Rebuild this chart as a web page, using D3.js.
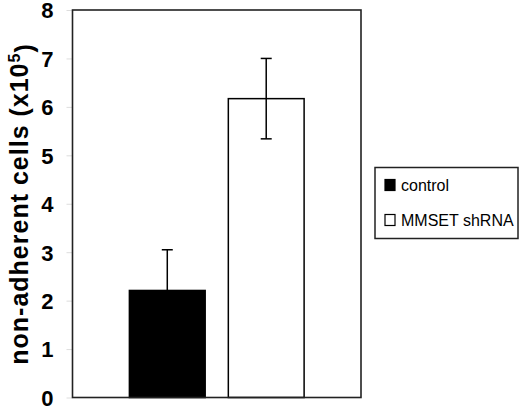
<!DOCTYPE html>
<html>
<head>
<meta charset="utf-8">
<script src="https://cdn.jsdelivr.net/npm/d3@7"></script>
<style>
  body { margin: 0; background: #fff; }
  svg { display: block; }
</style>
</head>
<body>
<svg id="chart" width="520" height="409"></svg>
<script>
// data
var groups = ["control", "MMSET shRNA"];
var means = [2.21, 6.17];
var errs = [0.84, 0.83];
var fills = ["#000000", "#ffffff"];
var yTicks = [0, 1, 2, 3, 4, 5, 6, 7, 8];

var svg = d3.select("#chart");
var box = { left: 72.5, right: 361, top: 10, bottom: 397.5 };
var font = "Arial, 'Liberation Sans', sans-serif";

var y = d3.scaleLinear().domain([0, 8]).range([box.bottom, box.top]);
var x = d3.scaleBand().domain(groups)
  .range([box.left, box.right])
  .paddingInner(0.234)
  .paddingOuter(0.575);

// y axis ticks + labels
var yAxis = d3.axisLeft(y).tickValues(yTicks).tickSize(6).tickPadding(13)
  .tickFormat(d3.format("d"));
var ga = svg.append("g")
  .attr("transform", "translate(" + box.left + ",0)")
  .call(yAxis);
ga.select(".domain").remove();
ga.selectAll(".tick line").attr("stroke", "#ddd").attr("stroke-width", 1);
ga.selectAll(".tick text")
  .attr("fill", "#000")
  .style("font-family", font)
  .style("font-weight", "bold")
  .style("font-size", "22px")
  .attr("dy", "0.36em");

// bars
svg.selectAll("rect.bar")
  .data(groups)
  .enter().append("rect")
  .attr("class", "bar")
  .attr("x", function (d) { return x(d); })
  .attr("width", x.bandwidth())
  .attr("y", function (d, i) { return y(means[i]); })
  .attr("height", function (d, i) { return y(0) - y(means[i]); })
  .attr("fill", function (d, i) { return fills[i]; })
  .attr("stroke", "#000")
  .attr("stroke-width", 1.5);

// error bars
var cap = 5.5;
groups.forEach(function (g, i) {
  var cx = x(g) + x.bandwidth() / 2;
  var lo = means[i] - errs[i], hi = means[i] + errs[i];
  svg.append("line")
    .attr("x1", cx).attr("x2", cx)
    .attr("y1", y(lo)).attr("y2", y(hi))
    .attr("stroke", "#000").attr("stroke-width", 1.5);
  [lo, hi].forEach(function (v) {
    svg.append("line")
      .attr("x1", cx - cap).attr("x2", cx + cap)
      .attr("y1", y(v)).attr("y2", y(v))
      .attr("stroke", "#000").attr("stroke-width", 1.5);
  });
});

// plot frame
svg.append("rect")
  .attr("x", box.left).attr("y", box.top)
  .attr("width", box.right - box.left)
  .attr("height", box.bottom - box.top)
  .attr("fill", "none")
  .attr("stroke", "#222")
  .attr("stroke-width", 1.6);

// y axis title
var title = svg.append("text")
  .attr("transform", "translate(28,204) rotate(-90)")
  .attr("text-anchor", "middle")
  .style("font-family", font)
  .style("font-weight", "bold")
  .style("font-size", "25px")
  .style("letter-spacing", "1px")
  .attr("fill", "#000");
title.append("tspan").text("non-adherent cells (x10");
title.append("tspan").attr("dy", "-0.5em").style("font-size", "16px").text("5");
title.append("tspan").attr("dy", "0.5em").text(")");

// legend
var leg = svg.append("g").attr("transform", "translate(375,167.5)");
leg.append("rect")
  .attr("width", 143).attr("height", 71)
  .attr("fill", "#fff")
  .attr("stroke", "#222")
  .attr("stroke-width", 1.5);
groups.forEach(function (g, i) {
  var row = leg.append("g").attr("transform", "translate(10," + (12 + i * 35) + ")");
  row.append("rect")
    .attr("width", 10).attr("height", 11)
    .attr("fill", fills[i])
    .attr("stroke", "#000").attr("stroke-width", 1.2);
  row.append("text")
    .attr("x", 16).attr("y", 11)
    .style("font-family", font)
    .style("font-size", "16px")
    .attr("fill", "#000")
    .text(g);
});
</script>
</body>
</html>
